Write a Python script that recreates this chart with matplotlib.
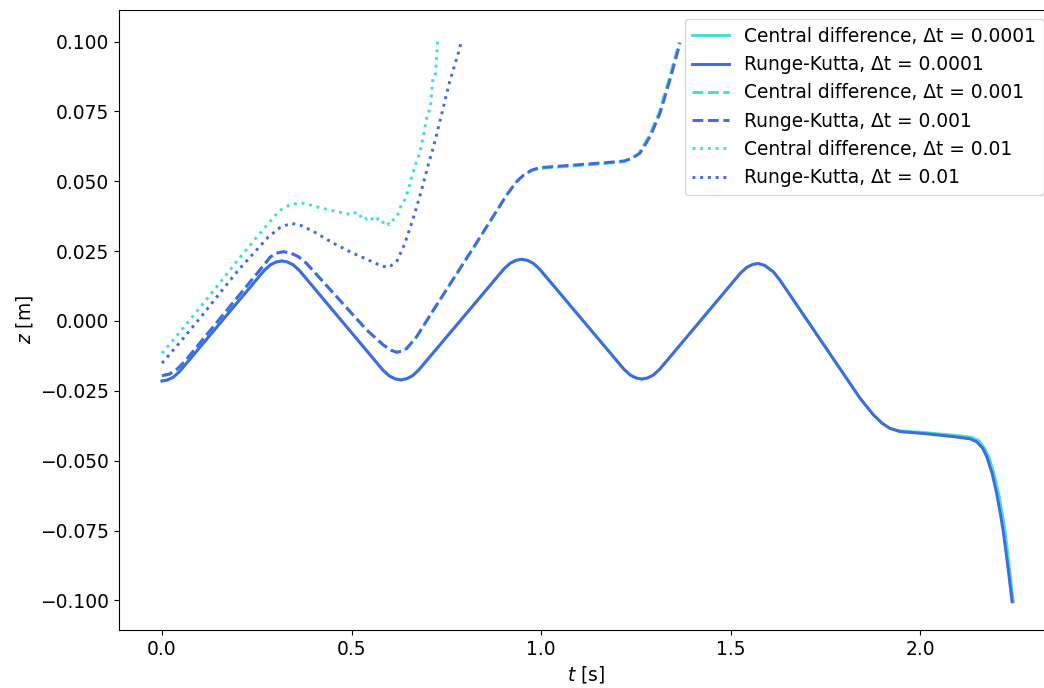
import matplotlib
matplotlib.use("Agg")
import matplotlib.pyplot as plt

# Runge-Kutta / central difference, dt = 0.0001 (shared part up to the knee)
t_head = [0.000, 0.015, 0.030, 0.047, 0.269, 0.286, 0.301, 0.316, 0.331, 0.346, 0.363,
          0.583, 0.600, 0.615, 0.630, 0.645, 0.660, 0.677,
          0.902, 0.919, 0.934, 0.949, 0.964, 0.979, 0.996,
          1.219, 1.236, 1.251, 1.266, 1.281, 1.296, 1.313,
          1.526, 1.543, 1.558, 1.573, 1.590, 1.613, 1.630, 1.648,
          1.842, 1.877, 1.900, 1.920]
z_head = [-0.0215, -0.0211, -0.0201, -0.0180, 0.0180, 0.0201, 0.0211, 0.0215, 0.0211, 0.0201, 0.0180,
          -0.0176, -0.0197, -0.0207, -0.0211, -0.0207, -0.0197, -0.0176,
          0.0186, 0.0207, 0.0217, 0.0221, 0.0217, 0.0207, 0.0186,
          -0.0173, -0.0194, -0.0204, -0.0208, -0.0204, -0.0194, -0.0173,
          0.0171, 0.0192, 0.0202, 0.0206, 0.0199, 0.0176, 0.0147, 0.0111,
          -0.0277, -0.0336, -0.0366, -0.0384]

t_rk1_tail = [1.947, 2.018, 2.088, 2.132, 2.150, 2.165, 2.176, 2.190, 2.202, 2.212, 2.219, 2.230, 2.243]
z_rk1_tail = [-0.0396, -0.0404, -0.0414, -0.0422, -0.0433, -0.0455, -0.0485, -0.0545, -0.0616, -0.0690, -0.0748, -0.0860, -0.1005]

t_cd1_tail = [1.947, 2.018, 2.088, 2.135, 2.155, 2.170, 2.181, 2.195, 2.207, 2.217, 2.224, 2.234, 2.246]
z_cd1_tail = [-0.0393, -0.0400, -0.0409, -0.0416, -0.0428, -0.0455, -0.0485, -0.0545, -0.0616, -0.0690, -0.0748, -0.0860, -0.1005]

# dt = 0.001
t_rk2 = [0.000, 0.020, 0.040, 0.060, 0.270, 0.285, 0.300, 0.320, 0.340, 0.360, 0.380,
         0.540, 0.584, 0.605, 0.619, 0.633, 0.646, 0.672, 0.716, 0.760, 0.830, 0.909,
         0.935, 0.953, 0.975, 0.997, 1.085, 1.173, 1.220, 1.240, 1.261, 1.288, 1.314, 1.340, 1.367]
z_rk2 = [-0.0196, -0.0190, -0.0172, -0.0145, 0.0202, 0.0228, 0.0242, 0.0248, 0.0243, 0.0230, 0.0208,
         -0.0032, -0.0086, -0.0105, -0.0112, -0.0108, -0.0098, -0.0056, 0.0039, 0.0132, 0.0280, 0.0450,
         0.0498, 0.0521, 0.0540, 0.0549, 0.0558, 0.0567, 0.0573, 0.0582, 0.0600, 0.0660, 0.0743, 0.0862, 0.0995]

t_cd2 = [0.000, 0.020, 0.040, 0.060, 0.270, 0.285, 0.300, 0.320, 0.340, 0.360, 0.380,
         0.540, 0.584, 0.605, 0.619, 0.633, 0.646, 0.672, 0.716, 0.760, 0.830, 0.909,
         0.935, 0.953, 0.975, 0.997, 1.085, 1.173, 1.218, 1.237, 1.258, 1.285, 1.311, 1.337, 1.365]
z_cd2 = [-0.0196, -0.0190, -0.0172, -0.0145, 0.0202, 0.0228, 0.0242, 0.0248, 0.0243, 0.0230, 0.0208,
         -0.0032, -0.0086, -0.0105, -0.0112, -0.0108, -0.0098, -0.0056, 0.0039, 0.0132, 0.0280, 0.0450,
         0.0498, 0.0520, 0.0538, 0.0546, 0.0555, 0.0564, 0.0570, 0.0580, 0.0600, 0.0660, 0.0743, 0.0862, 0.0998]

# dt = 0.01
t_rk3 = [0.00, 0.05, 0.10, 0.15, 0.20, 0.25, 0.28, 0.31, 0.34, 0.37, 0.40, 0.45, 0.50, 0.55,
         0.58, 0.60, 0.62, 0.64, 0.66, 0.68, 0.70, 0.72, 0.74, 0.76, 0.78, 0.79]
z_rk3 = [-0.0151, -0.0072, 0.0010, 0.0095, 0.0180, 0.0255, 0.0300, 0.0333, 0.0350, 0.0340, 0.0320,
         0.0280, 0.0245, 0.0215, 0.0196, 0.0193, 0.0215, 0.0275, 0.0355, 0.0445, 0.0546, 0.0643,
         0.0752, 0.0862, 0.0950, 0.1000]

t_cd3 = [0.00, 0.05, 0.10, 0.15, 0.20, 0.25, 0.28, 0.31, 0.34, 0.37, 0.40, 0.42, 0.44, 0.46,
         0.48, 0.50, 0.51, 0.52, 0.53, 0.54, 0.55, 0.56, 0.57, 0.58, 0.59, 0.60, 0.61, 0.62,
         0.63, 0.64, 0.65, 0.66, 0.67, 0.68, 0.69, 0.70, 0.708, 0.715, 0.722, 0.727]
z_cd3 = [-0.0116, -0.0035, 0.0048, 0.0132, 0.0218, 0.0300, 0.0348, 0.0395, 0.0418, 0.0422, 0.0412,
         0.0404, 0.0398, 0.0392, 0.0386, 0.0380, 0.0388, 0.0372, 0.0380, 0.0364, 0.0372, 0.0356,
         0.0366, 0.0350, 0.0360, 0.0344, 0.0362, 0.0372, 0.0410, 0.0432, 0.0470, 0.0520, 0.0565,
         0.0600, 0.0665, 0.0740, 0.0760, 0.0875, 0.0885, 0.1000]

c_cd = "#40E0D0"
c_rk = "royalblue"
lw = 2.1
fs = 13.4

plt.rcParams["font.size"] = fs
fig = plt.figure(figsize=(10.44, 6.88), dpi=100)
ax = fig.add_axes([119 / 1044, 58 / 688, 934 / 1044, 620 / 688])

ax.plot(t_head + t_cd1_tail, z_head + z_cd1_tail, color=c_cd, lw=lw, label="Central difference, Δt = 0.0001")
ax.plot(t_head + t_rk1_tail, z_head + z_rk1_tail, color=c_rk, lw=lw, label="Runge-Kutta, Δt = 0.0001")
k = 14
ax.plot(t_cd2[:k + 1], z_cd2[:k + 1], color=c_cd, lw=lw, ls="--", label="Central difference, Δt = 0.001")
ax.plot(t_cd2[k:], z_cd2[k:], color=c_cd, lw=lw, ls=(2.5, (3.7, 1.6)))
ax.plot(t_rk2, z_rk2, color=c_rk, lw=lw, ls="--", label="Runge-Kutta, Δt = 0.001")
ax.plot(t_cd3, z_cd3, color=c_cd, lw=lw, ls=":", label="Central difference, Δt = 0.01")
ax.plot(t_rk3, z_rk3, color=c_rk, lw=lw, ls=":", label="Runge-Kutta, Δt = 0.01")

ax.set_xlim(-0.1135, 2.3509)
ax.set_ylim(-0.1106, 0.1113)
ax.set_xticks([0.0, 0.5, 1.0, 1.5, 2.0])
ax.set_yticks([-0.100, -0.075, -0.050, -0.025, 0.000, 0.025, 0.050, 0.075, 0.100])
ax.set_yticklabels(["−0.100", "−0.075", "−0.050", "−0.025", "0.000", "0.025", "0.050", "0.075", "0.100"])
ax.set_xlabel("$t$ [s]")
ax.set_ylabel("$z$ [m]")
ax.legend(loc="upper right", fontsize=fs)

fig.savefig("out.png", dpi=100)
